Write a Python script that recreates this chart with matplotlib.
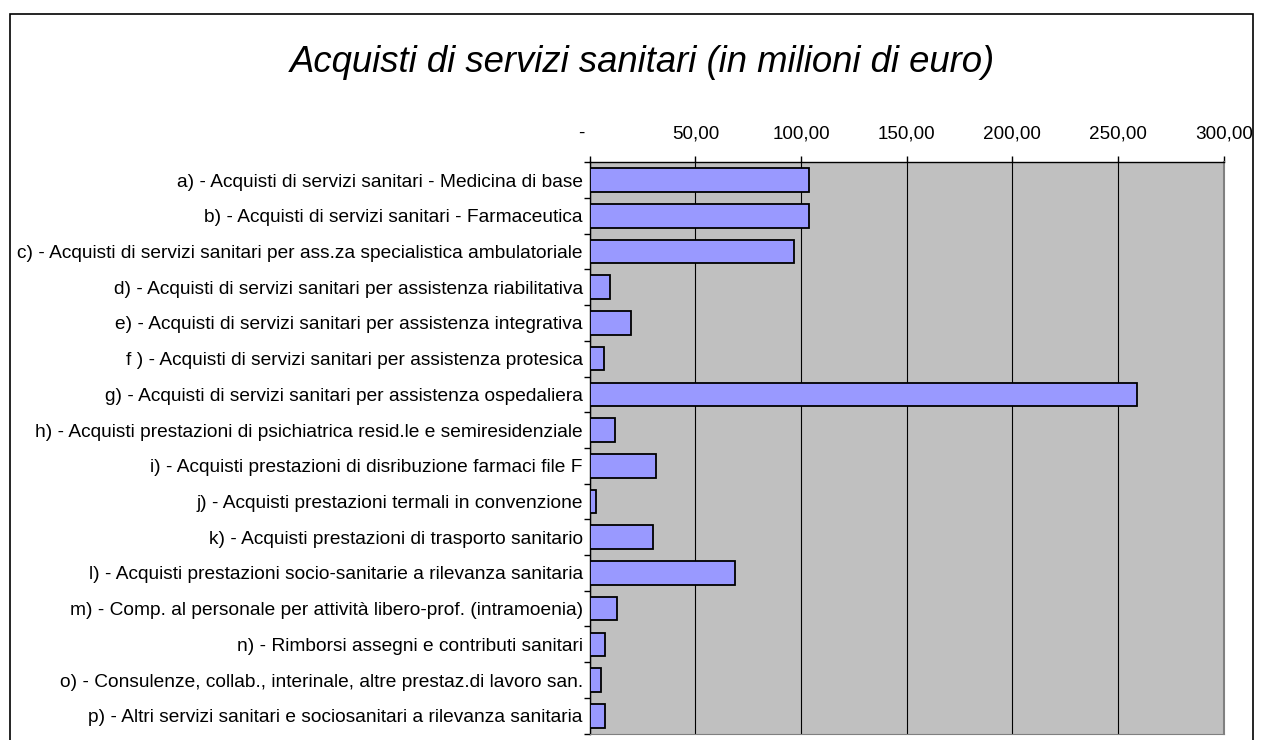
import numpy as np
import matplotlib.pyplot as plt
from matplotlib.patches import Rectangle
from matplotlib.ticker import FixedLocator, FuncFormatter

plt.rcParams['font.family'] = ['Liberation Sans', 'DejaVu Sans']

# ── Dati ─────────────────────────────────────────────────────────────────────
voci = [
    "a) - Acquisti di servizi sanitari - Medicina di base",
    "b) - Acquisti di servizi sanitari - Farmaceutica",
    "c) - Acquisti di servizi sanitari per ass.za specialistica ambulatoriale",
    "d) - Acquisti di servizi sanitari per assistenza riabilitativa",
    "e) - Acquisti di servizi sanitari per assistenza integrativa",
    "f ) - Acquisti di servizi sanitari per assistenza protesica",
    "g) - Acquisti di servizi sanitari per assistenza ospedaliera",
    "h) - Acquisti prestazioni di psichiatrica resid.le e semiresidenziale",
    "i) - Acquisti prestazioni di disribuzione farmaci file F",
    "j) - Acquisti prestazioni termali in convenzione",
    "k) - Acquisti prestazioni di trasporto sanitario",
    "l) - Acquisti prestazioni socio-sanitarie a rilevanza sanitaria",
    "m) - Comp. al personale per attività libero-prof. (intramoenia)",
    "n) - Rimborsi assegni e contributi sanitari",
    "o) - Consulenze, collab., interinale, altre prestaz.di lavoro san.",
    "p) - Altri servizi sanitari e sociosanitari a rilevanza sanitaria",
]
valori = [103.6, 103.6, 96.5, 9.5, 19.7, 6.9, 258.9, 11.8,
          31.5, 3.0, 30.1, 68.9, 12.8, 7.1, 5.5, 7.1]
tick_x = [0, 50, 100, 150, 200, 250, 300]

# ── Figura ───────────────────────────────────────────────────────────────────
fig = plt.figure(figsize=(12.63, 7.40), dpi=100)
W, H = 1263, 740
# area del grafico in pixel: x 589.7 -> 1223.7, y 162.3 -> 733.6
ax = fig.add_axes([589.7 / W, 1 - 733.6 / H, (1223.7 - 589.7) / W, (733.6 - 162.3) / H])
ax.set_facecolor('#C0C0C0')

y = np.arange(len(voci))
ax.barh(y, valori, height=0.66, color='#9999FF', edgecolor='black',
        linewidth=1.3, zorder=3)

ax.set_xlim(0, 300)
ax.set_ylim(len(voci) - 0.5, -0.5)

# asse x in alto
ax.xaxis.tick_top()
ax.set_xticks(tick_x)
ax.xaxis.set_major_formatter(FuncFormatter(
    lambda v, p: '-   ' if v == 0 else f"{v:.2f}".replace('.', ',')))
ax.tick_params(axis='x', length=4, width=1, pad=10.5, labelsize=13.6)
ax.grid(axis='x', color='black', linewidth=0.8, zorder=1)

# asse y: etichette al centro, tacche ai confini
ax.set_yticks(y)
ax.set_yticklabels(voci)
ax.yaxis.set_minor_locator(FixedLocator(np.arange(-0.5, len(voci), 1.0)))
ax.tick_params(axis='y', which='major', length=0, pad=5, labelsize=13.8)
ax.tick_params(axis='y', which='minor', length=4, width=1)

for s in ['top', 'left']:
    ax.spines[s].set_color('black')
    ax.spines[s].set_linewidth(1)
ax.spines['right'].set_color('#808080')
ax.spines['right'].set_linewidth(1.5)
ax.spines['bottom'].set_color('#808080')

fig.text(642 / W, 1 - 62 / H, 'Acquisti di servizi sanitari (in milioni di euro)',
         ha='center', va='center', fontsize=26.3, style='italic')

# bordo del grafico
fig.patches.append(Rectangle((10 / W, -0.1), (1253 - 10) / W, 1.1 - 14 / H,
                             transform=fig.transFigure, fill=False,
                             edgecolor='black', linewidth=1.2))

plt.savefig('out.png', dpi=100)
